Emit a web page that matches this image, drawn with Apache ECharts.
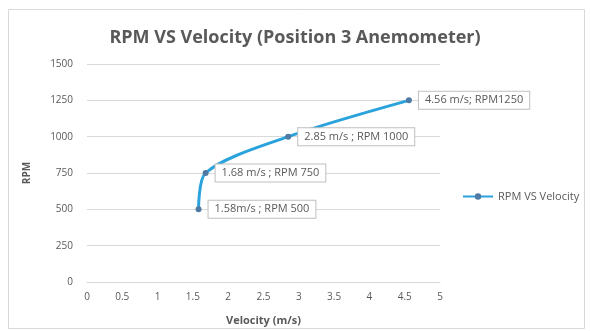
<!DOCTYPE html>
<html>
<head>
<meta charset="utf-8">
<script src="https://cdn.jsdelivr.net/npm/echarts@6/dist/echarts.min.js"></script>
<style>
  html, body { margin: 0; padding: 0; background: #fff; }
  #chart { width: 590px; height: 331px; }
</style>
</head>
<body>
<div id="chart"></div>
<script>
// Anemometer readings at position 3
const velocity = [1.58, 1.68, 2.85, 4.56];      // m/s
const rpm = [500, 750, 1000, 1250];
const pointLabels = [
  '1.58m/s ; RPM 500',
  '1.68 m/s ; RPM 750',
  '2.85 m/s ; RPM 1000',
  '4.56 m/s; RPM1250'
];
const seriesName = 'RPM VS Velocity';

const textColor = '#595959';
const gridColor = '#d9d9d9';
const font = '"Open Sans", "Liberation Sans", sans-serif';

const chart = echarts.init(document.getElementById('chart'));

chart.setOption({
  animation: false,
  backgroundColor: '#fff',
  textStyle: { fontFamily: font },
  graphic: [{
    type: 'rect',
    shape: { x: 8.5, y: 9.5, width: 576, height: 319 },
    style: { fill: 'none', stroke: gridColor, lineWidth: 1 },
    silent: true
  }],
  title: {
    text: 'RPM VS Velocity (Position 3 Anemometer)',
    left: 'center',
    top: 24,
    textStyle: { color: textColor, fontSize: 18, fontWeight: 'bold', fontFamily: font }
  },
  legend: {
    orient: 'vertical',
    left: 457,
    top: 186,
    itemWidth: 30,
    itemHeight: 8,
    itemGap: 4,
    textStyle: { color: textColor, fontSize: 11, fontFamily: font },
    data: [seriesName]
  },
  grid: { left: 87, right: 150, top: 64, bottom: 48 },
  xAxis: {
    type: 'value',
    min: 0,
    max: 5,
    interval: 0.5,
    name: 'Velocity (m/s)',
    nameLocation: 'middle',
    nameGap: 33,
    nameTextStyle: { color: textColor, fontSize: 11, fontWeight: 'bold' },
    axisLine: { show: true, lineStyle: { color: gridColor } },
    axisTick: { show: false },
    splitLine: { show: false },
    axisLabel: { color: textColor, fontSize: 10, margin: 10 }
  },
  yAxis: {
    type: 'value',
    min: 0,
    max: 1500,
    interval: 250,
    name: 'RPM',
    nameLocation: 'middle',
    nameGap: 55,
    nameRotate: 90,
    nameTextStyle: { color: textColor, fontSize: 10, fontWeight: 'bold' },
    axisLine: { show: false },
    axisTick: { show: false },
    splitLine: { show: true, lineStyle: { color: gridColor } },
    axisLabel: { color: textColor, fontSize: 10, margin: 14, formatter: v => String(v) }
  },
  series: [{
    name: seriesName,
    type: 'line',
    smooth: 0.3,
    data: velocity.map((v, i) => [v, rpm[i]]),
    lineStyle: { color: '#2aa3dc', width: 3 },
    itemStyle: { color: '#4f7aa3' },
    symbol: 'circle',
    symbolSize: 6,
    label: {
      show: true,
      position: 'right',
      distance: 7,
      formatter: p => pointLabels[p.dataIndex],
      color: textColor,
      fontSize: 11,
      backgroundColor: '#fff',
      borderColor: '#bfbfbf',
      borderWidth: 1,
      padding: [3, 6]
    }
  }]
});
</script>
</body>
</html>
